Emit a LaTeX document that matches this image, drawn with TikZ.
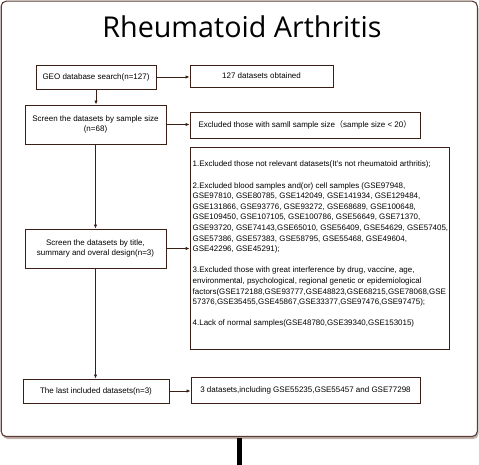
\documentclass[tikz,border=0pt]{standalone}
\usepackage{fontspec}
\setmainfont{Liberation Sans}
\newfontfamily\titlefont{Open Sans}
\newfontfamily\cjk{Noto Sans CJK SC}
\usetikzlibrary{arrows.meta}
\definecolor{boxline}{HTML}{3B1F17}
\definecolor{frameline}{HTML}{5C3D35}
\definecolor{frameshadow}{HTML}{C2B2AD}
\tikzset{
  flowbox/.style={draw=boxline, line width=0.9pt, inner sep=0pt, align=center,
    font=\fontsize{8}{10.4}\selectfont, text=black},
  conn/.style={draw=boxline, line width=0.8pt, -{Latex[length=4pt,width=3.4pt]}},
}
\begin{document}
\begin{tikzpicture}[x=1pt,y=-1pt]
\useasboundingbox (0,0) rectangle (479,465);
% outer frame with shadow
\fill[frameshadow, rounded corners=5pt] (2.5,3.5) rectangle (478.5,439);
\draw[frameline, line width=1.1pt, fill=white, rounded corners=5pt] (1.2,1.2) rectangle (477.3,436.5);
\fill[black] (237,437.5) rectangle (242,465);
% title
\node[anchor=base, font=\titlefont\fontsize{28.7}{32}\selectfont] (title) at (242,38) {Rheumatoid Arthritis};
% left column boxes
\node[flowbox, minimum width=120pt, minimum height=24pt] (geo) at (96,77) {GEO database search(n=127)};
\node[flowbox, minimum width=141pt, minimum height=39pt] (size) at (95.5,124.5) {Screen the datasets by sample size\\(n=68)};
\node[flowbox, minimum width=141pt, minimum height=39pt] (title2) at (95.5,248.5) {Screen the datasets by title,\\summary and overal design(n=3)};
\node[flowbox, minimum width=146pt, minimum height=24pt] (last) at (96,391) {The last included datasets(n=3)};
% right column boxes
\node[flowbox, minimum width=143pt, minimum height=22pt] (obt) at (261.5,76) {127 datasets obtained};
\node[flowbox, minimum width=230pt, minimum height=26pt] (excl) at (305,125) {Excluded those with samll sample size{\cjk （}sample size < 20{\cjk ）}};
\node[flowbox, minimum width=229pt, minimum height=26pt] (final) at (305.5,390) {3 datasets,including GSE55235,GSE55457 and GSE77298};
\node[draw=boxline, line width=0.9pt, minimum width=259pt, minimum height=202pt, inner sep=0pt] (big) at (319.5,248) {};
\node[anchor=north west, inner sep=0pt, align=left, font=\fontsize{7.95}{10.6}\selectfont] (bigtext) at (192.5,161) {%
1.Excluded those not relevant datasets(It's not rheumatoid arthritis);\\[10.6pt]
2.Excluded blood samples and(or) cell samples (GSE97948,\\
GSE97810, GSE80785, GSE142049, GSE141934, GSE129484,\\
GSE131866, GSE93776, GSE93272, GSE68689, GSE100648,\\
GSE109450, GSE107105, GSE100786, GSE56649, GSE71370,\\
GSE93720, GSE74143,GSE65010, GSE56409, GSE54629, GSE57405,\\
GSE57386, GSE57383, GSE58795, GSE55468, GSE49604,\\
GSE42296, GSE45291);\\[10.6pt]
3.Excluded those with great interference by drug, vaccine, age,\\
environmental, psychological, regional genetic or epidemiological\\
factors(GSE172188,GSE93777,GSE48823,GSE68215,GSE78068,GSE\\
57376,GSE35455,GSE45867,GSE33377,GSE97476,GSE97475);\\[10.6pt]
4.Lack of normal samples(GSE48780,GSE39340,GSE153015)};
% connectors
\draw[conn] (geo.east) -- (geo.east -| obt.west);
\draw[conn] (geo.south) -- (geo.south |- size.north);
\draw[conn] (size.east) -- (size.east -| excl.west);
\draw[conn] (size.south) -- (size.south |- title2.north);
\draw[conn] (title2.east) -- (title2.east -| big.west);
\draw[conn] (title2.south) -- (title2.south |- last.north);
\draw[conn] (last.east) -- (last.east -| final.west);
\end{tikzpicture}
\end{document}
